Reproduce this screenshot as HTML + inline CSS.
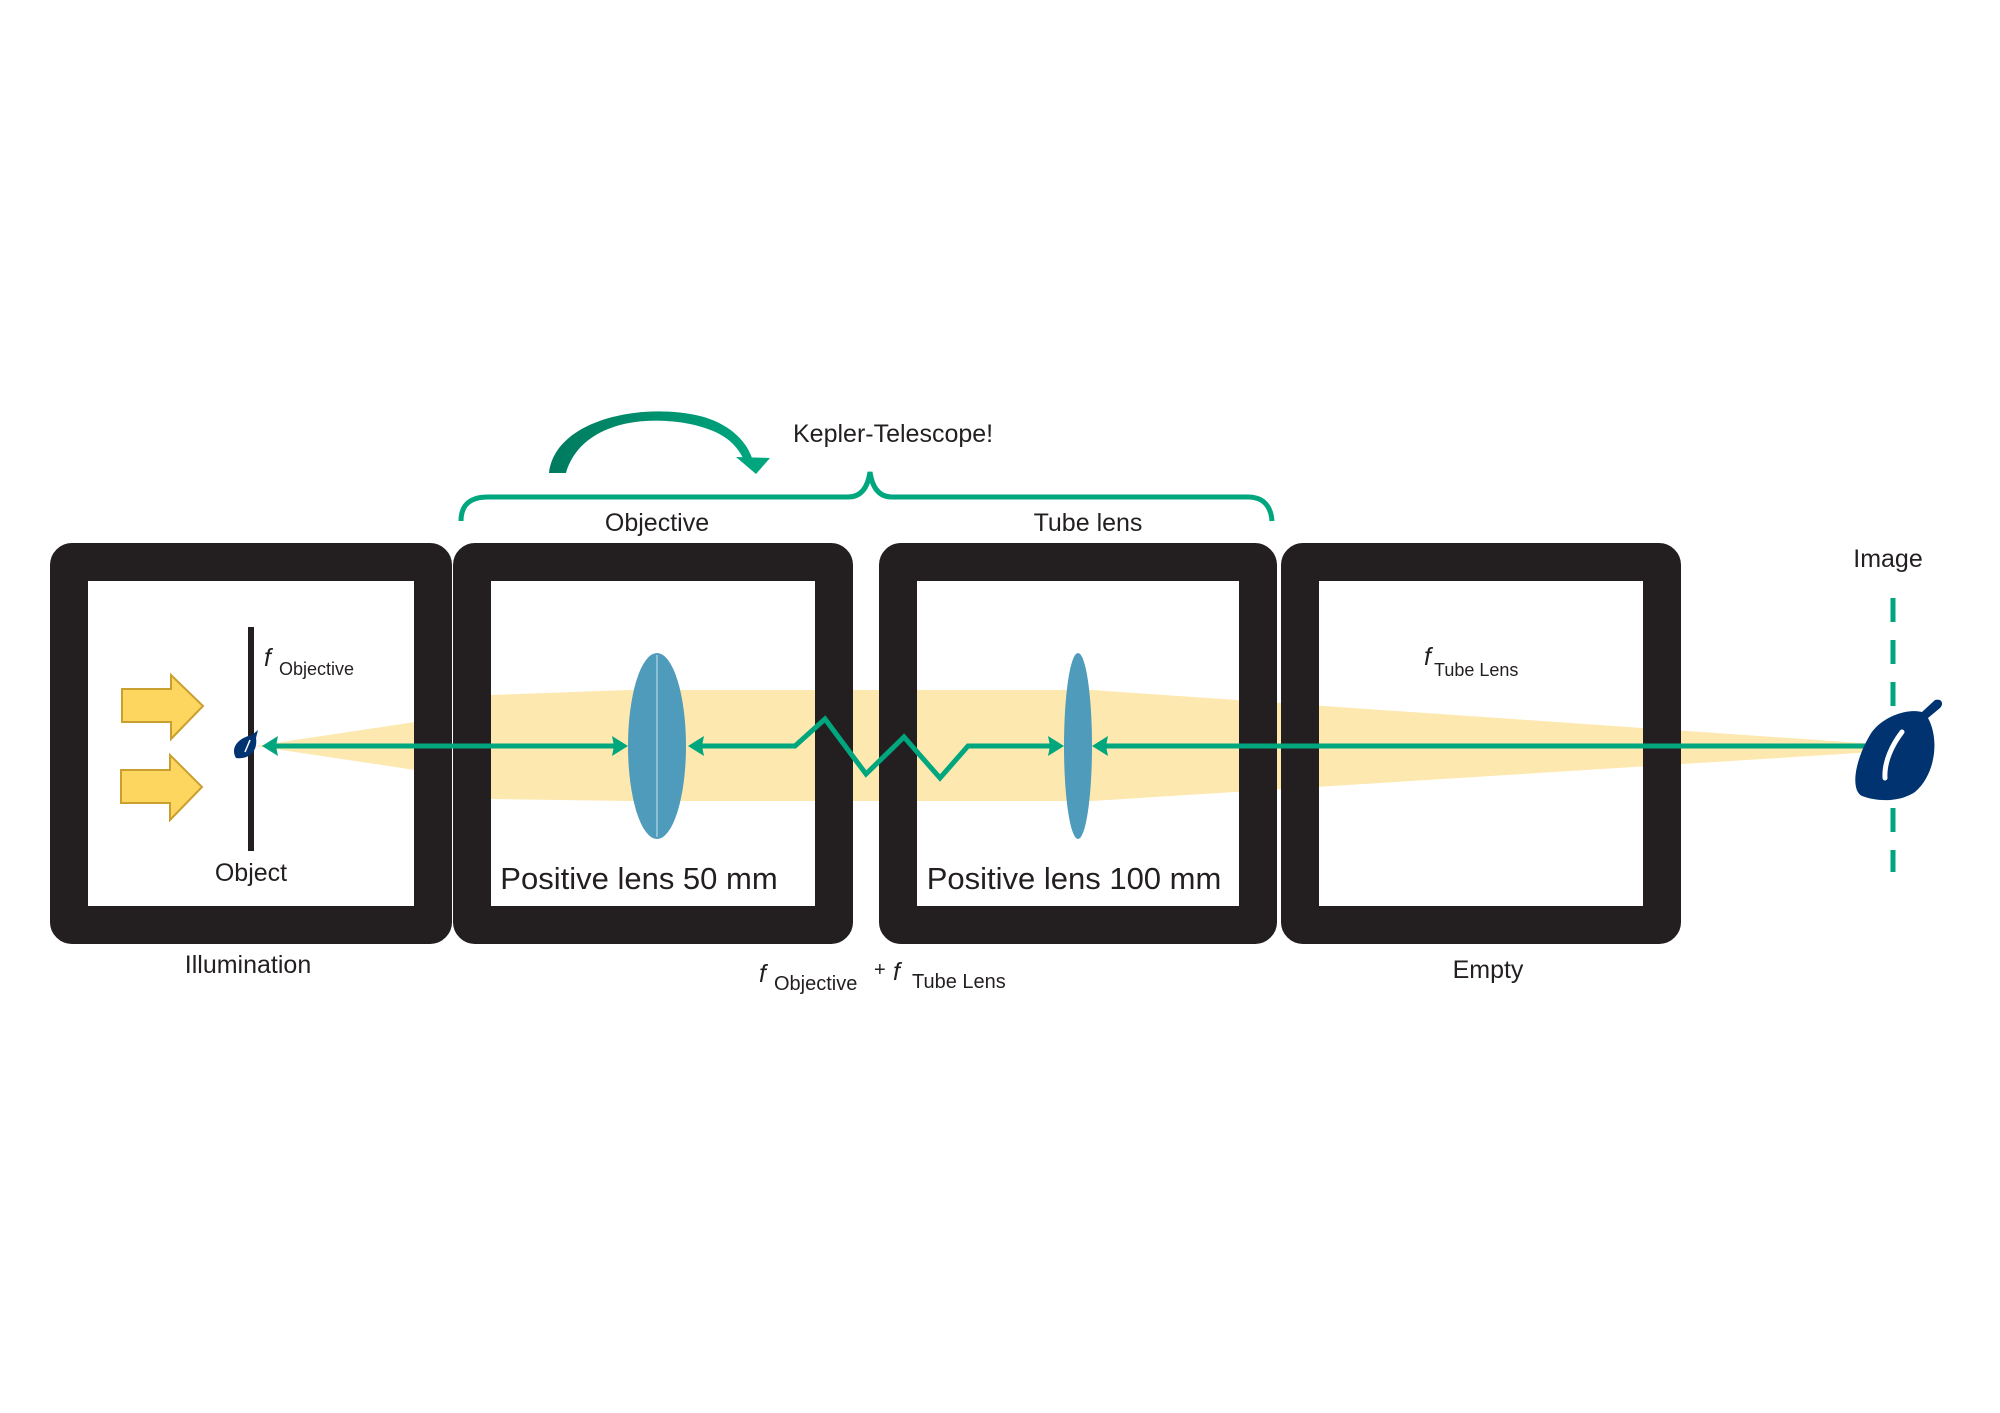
<!DOCTYPE html>
<html><head><meta charset="utf-8"><style>
html,body{margin:0;padding:0;background:#fff;}
svg{display:block;}
text{font-family:"Liberation Sans",sans-serif;fill:#231f20;}
</style></head><body>
<svg width="2000" height="1413" viewBox="0 0 2000 1413" xmlns="http://www.w3.org/2000/svg">
<defs>
<linearGradient id="ag" x1="0" x2="1" y1="0" y2="0">
<stop offset="0" stop-color="#007a5e"/><stop offset="1" stop-color="#00a67e"/>
</linearGradient>
</defs>
<rect width="2000" height="1413" fill="#fff"/>

<polygon points="255,746 415,722 415,770" fill="#fde8b0"/>
<polygon points="491,695 628,690 1092,690 1092,801 628,801 491,799" fill="#fde8b0"/>
<polygon points="1092,690 1890,745 1890,751 1092,801" fill="#fde8b0"/>

<g fill="none" stroke="#231f20" stroke-width="38">
<rect x="69" y="562" width="364" height="363" rx="6"/>
<rect x="472" y="562" width="362" height="363" rx="6"/>
<rect x="898" y="562" width="360" height="363" rx="6"/>
<rect x="1300" y="562" width="362" height="363" rx="6"/>
</g>
<g fill="none" stroke="#231f20" stroke-width="4">
<rect x="52" y="545" width="398" height="397" rx="20"/>
<rect x="455" y="545" width="396" height="397" rx="20"/>
<rect x="881" y="545" width="394" height="397" rx="20"/>
<rect x="1283" y="545" width="396" height="397" rx="20"/>
</g>

<ellipse cx="657" cy="746" rx="29" ry="93" fill="#4f9bbb"/>
<line x1="657" y1="655" x2="657" y2="837" stroke="#8cc0d6" stroke-width="2"/>
<ellipse cx="1078" cy="746" rx="14" ry="93" fill="#4f9bbb"/>

<rect x="248" y="627" width="6" height="224" fill="#231f20"/>

<g fill="#fdd660" stroke="#c9a030" stroke-width="2">
<polygon points="122,689 171,689 171,675 203,706 171,739 171,722 122,722"/>
<polygon points="121,770 170,770 170,755 202,787 170,820 170,803 121,803"/>
</g>

<g stroke="#00a67e" stroke-width="5" fill="none" stroke-linejoin="miter">
<line x1="268" y1="746" x2="620" y2="746"/>
<polyline points="700,746 795,746 825,719 866,774 904,737 940,778 968,746 1058,746"/>
<line x1="1104" y1="746" x2="1895" y2="746"/>
</g>
<g fill="#00a67e">
<polygon points="262,746 278,736 276,746 278,756"/>
<polygon points="628,746 612,736 614,746 612,756"/>
<polygon points="688,746 704,736 702,746 704,756"/>
<polygon points="1064,746 1048,736 1050,746 1048,756"/>
<polygon points="1092,746 1108,736 1106,746 1108,756"/>
<polygon points="1905,746 1889,736 1891,746 1889,756"/>
</g>

<path d="M236,758 C230,748 238,738 252,735 L258,730 L256,738 C258,750 250,760 236,758 Z" fill="#003370"/>
<path d="M245,752 L250,740" stroke="#fff" stroke-width="1.5"/>

<line x1="1893" y1="598" x2="1893" y2="872" stroke="#00a67e" stroke-width="5" stroke-dasharray="24 18"/>
<path d="M1862,796 C1850,790 1855,760 1870,735 C1880,718 1905,708 1922,712 L1935,700 C1942,698 1944,704 1940,708 L1928,718 C1940,740 1935,775 1915,792 C1900,802 1878,802 1862,796 Z" fill="#003370"/>
<path d="M1885,778 C1884,762 1892,745 1902,732" stroke="#fff" stroke-width="5" fill="none" stroke-linecap="round"/>

<path d="M549,473 C555,420 640,402 700,416 C728,423 746,440 752,458 L743,458 C734,440 718,430 690,424 C640,414 580,425 566,473 Z" fill="url(#ag)"/>
<polygon points="736,457 770,458 756,474" fill="#00a67e"/>

<path d="M461,521 C461,505 470,497 488,497 L848,497 C862,497 868,486 870,472 C872,486 878,497 892,497 L1248,497 C1264,497 1271,507 1272,521" fill="none" stroke="#00a67e" stroke-width="5"/>

<text x="793" y="442" font-size="25">Kepler-Telescope!</text>
<text x="657" y="531" font-size="25" text-anchor="middle">Objective</text>
<text x="1088" y="531" font-size="25" text-anchor="middle">Tube lens</text>
<text x="1888" y="567" font-size="25" text-anchor="middle">Image</text>

<text x="264" y="666" font-size="25" font-style="italic">f</text>
<text x="279" y="675" font-size="18">Objective</text>
<text x="1424" y="665" font-size="25" font-style="italic">f</text>
<text x="1434" y="676" font-size="18">Tube Lens</text>

<text x="251" y="881" font-size="25" text-anchor="middle">Object</text>
<text x="639" y="889" font-size="31" text-anchor="middle">Positive lens 50 mm</text>
<text x="1074" y="889" font-size="31" text-anchor="middle">Positive lens 100 mm</text>

<text x="248" y="973" font-size="25" text-anchor="middle">Illumination</text>
<text x="1488" y="978" font-size="25" text-anchor="middle">Empty</text>

<text x="759" y="982" font-size="25" font-style="italic">f</text>
<text x="774" y="990" font-size="20">Objective</text>
<text x="874" y="976" font-size="20">+</text>
<text x="893" y="980" font-size="25" font-style="italic">f</text>
<text x="912" y="988" font-size="20">Tube Lens</text>
</svg>
</body></html>
